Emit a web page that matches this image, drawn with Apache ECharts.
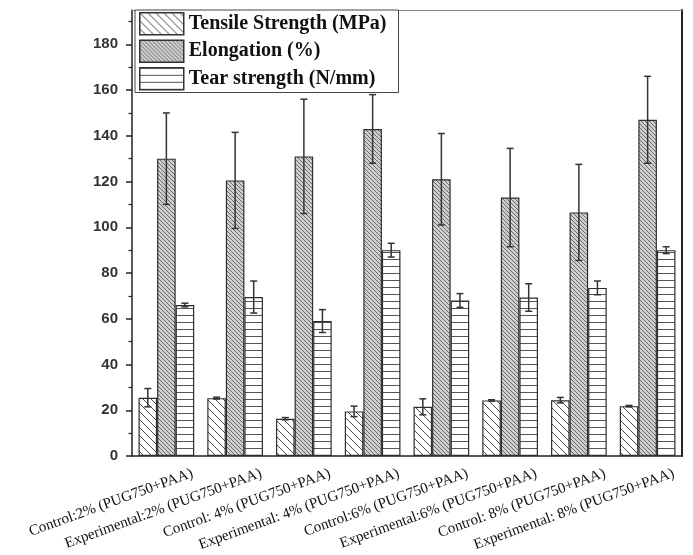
<!DOCTYPE html>
<html>
<head>
<meta charset="utf-8">
<script src="https://cdn.jsdelivr.net/npm/echarts@6/dist/echarts.min.js"></script>
<style>
  html, body { margin: 0; padding: 0; background: #fff; }
  #chart { width: 693px; height: 555px; }
</style>
</head>
<body>
<div id="chart"></div>
<script>
// Sample groups (x axis)
const categories = [
  "Control:2% (PUG750+PAA)",
  "Experimental:2% (PUG750+PAA)",
  "Control: 4% (PUG750+PAA)",
  "Experimental: 4% (PUG750+PAA)",
  "Control:6% (PUG750+PAA)",
  "Experimental:6% (PUG750+PAA)",
  "Control: 8% (PUG750+PAA)",
  "Experimental: 8% (PUG750+PAA)"
];

// Measured means and standard deviations
const tensile      = [25.5, 25.3, 16.3, 19.5, 21.5, 24.3, 24.4, 21.8];
const tensileErr   = [4.0, 0.4, 0.5, 2.3, 3.5, 0.3, 1.2, 0.3];
const elongation   = [130, 120.5, 131, 143, 121, 113, 106.5, 147];
const elongErr     = [20, 21, 25, 15, 20, 21.5, 21, 19];
const tear         = [66, 69.5, 59, 90, 68, 69.3, 73.5, 90];
const tearErr      = [0.8, 7, 5, 3, 3, 6, 3, 1.5];

const seriesNames = ["Tensile Strength (MPa)", "Elongation (%)", "Tear strength (N/mm)"];

// Y axis ticks
const yMajorTicks = [0, 20, 40, 60, 80, 100, 120, 140, 160, 180];
const yMinorTicks = [10, 30, 50, 70, 90, 110, 130, 150, 170, 190];
const yMax = 195;

// ---- hatch fills ----
function tile(w, h, bg, draw) {
  const c = document.createElement('canvas');
  c.width = w; c.height = h;
  const ctx = c.getContext('2d');
  ctx.fillStyle = bg;
  ctx.fillRect(0, 0, w, h);
  draw(ctx, w, h);
  return { image: c, repeat: 'repeat' };
}
function backDiagonal(ctx, s, color, width) {
  ctx.strokeStyle = color;
  ctx.lineWidth = width;
  ctx.beginPath();
  for (const k of [-s, 0, s]) {
    ctx.moveTo(k, 0);
    ctx.lineTo(k + s, s);
  }
  ctx.stroke();
}
const fillTensile = tile(8, 8, '#ffffff', (ctx, s) => backDiagonal(ctx, s, '#4a4a4a', 1));
const fillElong = tile(4, 4, '#cfcfcf', (ctx, s) => backDiagonal(ctx, s, '#6a6a6a', 1));
const fillTear = tile(7, 7, '#ffffff', (ctx, w) => {
  ctx.strokeStyle = '#555';
  ctx.lineWidth = 1;
  ctx.beginPath();
  ctx.moveTo(0, 0.5);
  ctx.lineTo(w, 0.5);
  ctx.stroke();
});
const fills = [fillTensile, fillElong, fillTear];

const means = [tensile, elongation, tear];
const errs = [tensileErr, elongErr, tearErr];

const catGap = 0.19;       // fraction of each band left empty
const labelShift = 0.38;   // label anchor offset (in category units)

const bars = seriesNames.map((name, i) => ({
  name,
  type: 'bar',
  xAxisIndex: 0,
  yAxisIndex: 0,
  barGap: '0%',
  barCategoryGap: (catGap * 100) + '%',
  itemStyle: { color: fills[i], borderColor: '#2e2e2e', borderWidth: 1.2 },
  emphasis: { disabled: true },
  data: means[i],
  z: 2
}));

const errorBars = seriesNames.map((name, i) => ({
  name: name + ' error',
  type: 'custom',
  xAxisIndex: 0,
  yAxisIndex: 0,
  z: 5,
  silent: true,
  data: means[i].map((v, k) => [k, v, errs[i][k]]),
  renderItem: function (params, api) {
    const k = api.value(0), v = api.value(1), e = api.value(2);
    const band = api.size([1, 0])[0];
    const bw = band * (1 - catGap) / 3;
    const mid = api.coord([k, v]);
    const x = mid[0] + (i - 1) * bw;
    const yTop = api.coord([k, v + e])[1];
    const yBot = api.coord([k, v - e])[1];
    const cap = 3.5;
    const st = { stroke: '#333', lineWidth: 1.5 };
    return {
      type: 'group',
      children: [
        { type: 'line', shape: { x1: x, y1: yTop, x2: x, y2: yBot }, style: st },
        { type: 'line', shape: { x1: x - cap, y1: yTop, x2: x + cap, y2: yTop }, style: st },
        { type: 'line', shape: { x1: x - cap, y1: yBot, x2: x + cap, y2: yBot }, style: st }
      ]
    };
  }
}));

const chart = echarts.init(document.getElementById('chart'), null, { renderer: 'canvas' });
chart.setOption({
  animation: false,
  backgroundColor: '#fff',
  grid: { left: 132, right: 11, top: 10, bottom: 99 },
  legend: {
    data: seriesNames,
    orient: 'vertical',
    left: 135,
    top: 10,
    padding: [2, 12, 2, 4],
    itemWidth: 44,
    itemHeight: 22,
    itemGap: 4,
    icon: 'rect',
    borderColor: '#444',
    borderWidth: 1,
    backgroundColor: '#fff',
    itemStyle: { borderColor: '#333', borderWidth: 1.5 },
    textStyle: { fontFamily: 'Liberation Serif', fontWeight: 'bold', fontSize: 20, color: '#111' },
    selectedMode: false
  },
  xAxis: [
    {
      type: 'category', position: 'bottom', data: categories,
      axisLine: { onZero: false, lineStyle: { color: '#222', width: 1.5 } },
      axisTick: { alignWithLabel: true, length: 6, lineStyle: { color: '#222', width: 1.5 } },
      axisLabel: { show: false }
    },
    {
      type: 'category', position: 'bottom', data: categories,
      axisLine: { show: false, onZero: false },
      axisTick: { length: 3, lineStyle: { color: '#222', width: 1.2 } },
      axisLabel: { show: false }
    },
    {
      type: 'value', position: 'bottom',
      min: -0.5 - labelShift, max: categories.length - 0.5 - labelShift,
      axisLine: { show: false, onZero: false }, axisTick: { show: false }, splitLine: { show: false },
      axisLabel: {
        customValues: categories.map((c, k) => k),
        formatter: v => categories[Math.round(v)] || '',
        rotate: 20,
        margin: 17,
        fontFamily: 'Liberation Serif',
        fontSize: 15,
        color: '#111'
      }
    },
    {
      type: 'category', position: 'top', data: categories,
      axisLine: { onZero: false, lineStyle: { color: '#888', width: 1 } },
      axisTick: { show: false }, axisLabel: { show: false }
    }
  ],
  yAxis: [
    {
      type: 'value', position: 'left', min: 0, max: yMax,
      axisLine: { show: true, onZero: false, lineStyle: { color: '#222', width: 1.5 } },
      axisTick: { show: true, customValues: yMajorTicks, length: 6, lineStyle: { color: '#222', width: 1.5 } },
      axisLabel: {
        customValues: yMajorTicks, margin: 14,
        fontFamily: 'Liberation Sans', fontWeight: 'bold', fontSize: 15, color: '#333'
      },
      splitLine: { show: false }
    },
    {
      type: 'value', position: 'left', min: 0, max: yMax,
      axisLine: { show: false, onZero: false },
      axisTick: { show: true, customValues: yMinorTicks, length: 3.5, lineStyle: { color: '#222', width: 1.2 } },
      axisLabel: { show: false },
      splitLine: { show: false }
    },
    {
      type: 'value', position: 'right', min: 0, max: yMax,
      axisLine: { show: true, onZero: false, lineStyle: { color: '#222', width: 2 } },
      axisTick: { show: false }, axisLabel: { show: false }, splitLine: { show: false }
    }
  ],
  series: [...bars, ...errorBars]
});
</script>
</body>
</html>
